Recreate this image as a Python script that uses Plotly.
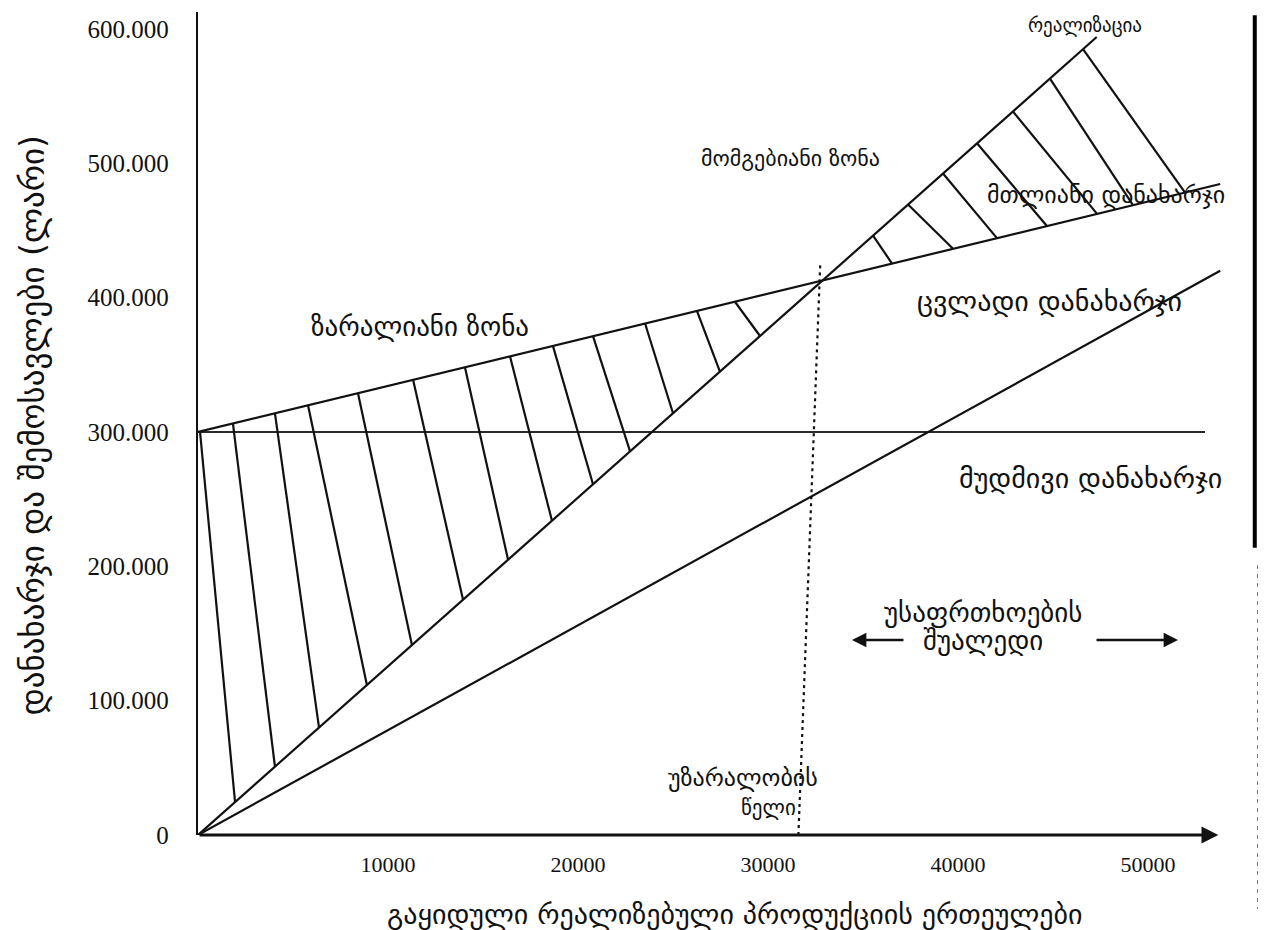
import numpy as np
import plotly.graph_objects as go

# ---------------- data (units sold vs. lari) ----------------
x_tick_vals = [10000, 20000, 30000, 40000, 50000]
x_tick_text = ["10000", "20000", "30000", "40000", "50000"]
y_tick_vals = [0, 100000, 200000, 300000, 400000, 500000, 600000]
y_tick_text = ["0", "100.000", "200.000", "300.000", "400.000", "500.000", "600.000"]

fixed_x = [0, 53000]
fixed_y = [300000, 300000]
variable_x = [0, 53800]
variable_y = [0, 420000]
total_x = [0, 53800]
total_y = [300000, 484600]
revenue_x = [0, 47300]
revenue_y = [0, 594000]
breakeven_x = [31600, 32750]
breakeven_y = [0, 425000]

# hatch lines: loss zone (top on total cost, bottom on revenue)
loss_top_x = [105, 1840, 4050, 5790, 8420, 11320, 14050, 16420, 18680, 20790, 23530, 26260, 28260]
loss_bot_x = [1950, 4050, 6370, 8890, 11260, 13950, 16320, 18630, 20790, 22740, 25000, 27470, 29580]
# hatch lines: profit zone (top on revenue, bottom on total cost)
profit_top_x = [35530, 37370, 39210, 41000, 42890, 44840, 46580]
profit_bot_x = [36530, 39740, 42050, 44680, 47320, 49210, 51950]

X_MAX = 53895
Y_MAX = 612640

GEO = "DejaVu Sans"
NUM = "Liberation Serif"
BLACK = "#111111"

fig = go.Figure()

def seg(xs, ys, width=2.2, color=BLACK, dash=None):
    fig.add_trace(go.Scatter(x=xs, y=ys, mode="lines", showlegend=False, hoverinfo="skip",
                             line=dict(color=color, width=width, dash=dash)))

seg(fixed_x, fixed_y, width=2, color="#2a2a2a")
seg(variable_x, variable_y)
seg(total_x, total_y)
seg(revenue_x, revenue_y)
seg(breakeven_x, breakeven_y, width=2.2, dash="3px,4px")

# hatching
lt_y = np.interp(loss_top_x, total_x, total_y)
lb_y = np.interp(loss_bot_x, revenue_x, revenue_y)
hx, hy = [], []
for a, b, c, d in zip(loss_top_x, lt_y, loss_bot_x, lb_y):
    hx += [a, c, None]
    hy += [b, d, None]
pt_y = np.interp(profit_top_x, revenue_x, revenue_y)
pb_y = np.interp(profit_bot_x, total_x, total_y)
for a, b, c, d in zip(profit_top_x, pt_y, profit_bot_x, pb_y):
    hx += [a, c, None]
    hy += [b, d, None]
fig.add_trace(go.Scatter(x=hx, y=hy, mode="lines", showlegend=False, hoverinfo="skip",
                         line=dict(color=BLACK, width=2.2), connectgaps=False))

# x-axis with arrow
fig.add_annotation(x=53700, y=0, ax=0, ay=0, xref="x", yref="y", axref="x", ayref="y",
                   showarrow=True, arrowhead=2, arrowsize=1.2, arrowwidth=2.8, arrowcolor=BLACK,
                   text="", standoff=0)

# margin of safety arrows
fig.add_annotation(x=34420, y=145160, ax=37210, ay=145160, xref="x", yref="y", axref="x", ayref="y",
                   showarrow=True, arrowhead=2, arrowsize=1.2, arrowwidth=2.4, arrowcolor=BLACK, text="")
fig.add_annotation(x=51580, y=145160, ax=47210, ay=145160, xref="x", yref="y", axref="x", ayref="y",
                   showarrow=True, arrowhead=2, arrowsize=1.2, arrowwidth=2.4, arrowcolor=BLACK, text="")

def label(text, x, y, size=19, xanchor="center", xref="x", yref="y", angle=0):
    fig.add_annotation(x=x, y=y, xref=xref, yref=yref, text=text, showarrow=False,
                       xanchor=xanchor, yanchor="middle", textangle=angle,
                       font=dict(family=GEO, size=size, color=BLACK))

label("რეალიზაცია", 46680, 602960, size=19)
label("მომგებიანი ზონა", 31160, 503960, size=22)
label("მთლიანი დანახარჯი", 41420, 476420, size=24, xanchor="left")
label("ცვლადი დანახარჯი", 44840, 396770, size=28)
label("მუდმივი დანახარჯი", 46950, 265750, size=28)
label("ზარალიანი ზონა", 11680, 378160, size=27)
label("უსაფრთხოების", 41320, 166000, size=27)
label("შუალედი", 41320, 145160, size=27)
label("უზარალობის", 28680, 42430, size=24)
label("წელი", 30000, 20100, size=21)

# axis titles
label("გაყიდული რეალიზებული პროდუქციის ერთეულები", 0.524, -0.097, size=28,
      xref="paper", yref="paper")
label("დანახარჯი და შემოსავლები (ლარი)", -0.162, 0.498, size=33,
      xref="paper", yref="paper", angle=-90)

# scan artefact at right edge
fig.add_shape(type="line", xref="paper", yref="paper", x0=1.032, x1=1.032, y0=0.996, y1=0.349,
              line=dict(color="black", width=4))
fig.add_shape(type="line", xref="paper", yref="paper", x0=1.036, x1=1.036, y0=0.328, y1=-0.09,
              line=dict(color="#333333", width=3, dash="4px,5px"))

fig.update_layout(
    width=1258, height=922,
    margin=dict(l=190, r=44, t=4, b=95),
    plot_bgcolor="white", paper_bgcolor="white",
    xaxis=dict(range=[0, X_MAX], showgrid=False, zeroline=False, showline=False,
               tickvals=x_tick_vals, ticktext=x_tick_text, ticks="", ticklabelstandoff=14,
               tickfont=dict(family=NUM, size=22, color=BLACK), fixedrange=True),
    yaxis=dict(range=[0, Y_MAX], showgrid=False, zeroline=False, showline=True,
               linecolor=BLACK, linewidth=2.4,
               tickvals=y_tick_vals, ticktext=y_tick_text, ticks="", ticklabelstandoff=22,
               tickfont=dict(family=NUM, size=25, color=BLACK), fixedrange=True),
)

fig.write_html("out.html")
